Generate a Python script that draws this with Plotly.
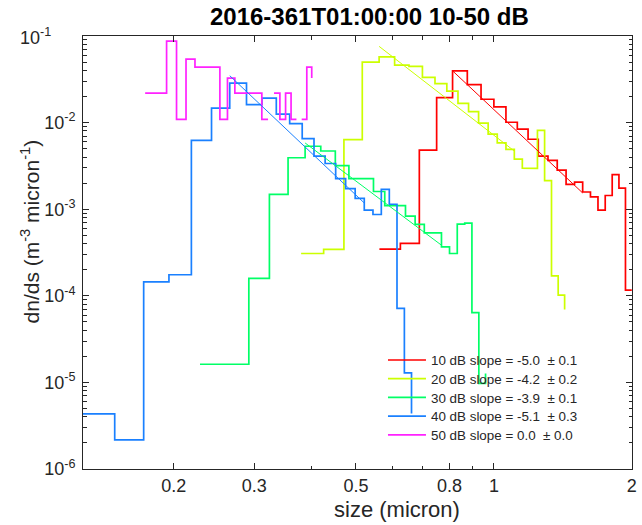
import plotly.graph_objects as go

# ---------------- data ----------------
# bin edges (micron); values: dn/ds per bin, last entry = value at the final edge
edges_10 = [0.5625, 0.625, 0.6875, 0.75, 0.8125, 0.875, 0.9375, 1.0, 1.0625, 1.125,
            1.1875, 1.25, 1.3125, 1.375, 1.4375, 1.5, 1.5625, 1.625, 1.6875, 1.75,
            1.8125, 1.875, 1.9375, 2.0]
vals_10 = [3.46e-4, 4.02e-4, 4.82e-3, 1.94e-2, 3.96e-2, 2.75e-2, 1.86e-2, 1.52e-2,
           1.01e-2, 8.41e-3, 6.42e-3, 4.09e-3, 3.67e-3, 2.82e-3, 1.94e-3, 2.05e-3,
           1.58e-3, 1.39e-3, 9.74e-4, 1.44e-3, 2.51e-3, 1.75e-3, 1.16e-4, 1.16e-4]

edges_20 = [0.3795, 0.4250, 0.4706, 0.5161, 0.5617, 0.6072, 0.6527, 0.6983, 0.7438,
            0.7894, 0.8349, 0.8805, 0.9260, 0.9716, 1.0171, 1.0626, 1.1082, 1.1537,
            1.1993, 1.2448, 1.2904, 1.3359, 1.3815, 1.4270]
vals_20 = [3.08e-4, 3.44e-4, 6.37e-3, 5.00e-2, 5.74e-2, 4.61e-2, 4.46e-2, 3.33e-2,
           2.82e-2, 2.31e-2, 1.67e-2, 1.34e-2, 9.87e-3, 7.37e-3, 5.82e-3, 4.92e-3,
           3.78e-3, 2.97e-3, 2.96e-3, 8.15e-3, 2.14e-3, 1.70e-4, 1.02e-4, 6.97e-5]

edges_30 = [0.2283, 0.2601, 0.2918, 0.3236, 0.3554, 0.3872, 0.4189, 0.4507, 0.4825,
            0.5142, 0.5460, 0.5778, 0.6095, 0.6413, 0.6731, 0.7049, 0.7366, 0.7684,
            0.8002, 0.8319, 0.8637, 0.8955, 0.9272, 0.9590]
vals_30 = [1.62e-5, 1.62e-5, 1.59e-4, 1.48e-3, 3.93e-3, 5.33e-3, 4.70e-3, 3.19e-3,
           2.26e-3, 2.26e-3, 1.60e-3, 1.10e-3, 1.10e-3, 8.30e-4, 6.67e-4, 5.33e-4,
           5.33e-4, 3.67e-4, 3.08e-4, 6.71e-4, 6.90e-4, 6.40e-5, 9.77e-6, 1.27e-5]

edges_40 = [0.1254, 0.1487, 0.1720, 0.1953, 0.2186, 0.2419, 0.2651, 0.2884, 0.3117,
            0.3350, 0.3583, 0.3816, 0.4049, 0.4282, 0.4515, 0.4747, 0.4980, 0.5213,
            0.5446, 0.5679, 0.5912, 0.6145, 0.6377, 0.6610]
vals_40 = [4.32e-6, 2.17e-6, 1.45e-4, 1.75e-4, 6.25e-3, 1.47e-2, 2.86e-2, 1.61e-2,
           1.92e-2, 1.25e-2, 9.74e-3, 6.54e-3, 4.09e-3, 3.37e-3, 2.26e-3, 1.73e-3,
           1.33e-3, 9.74e-4, 8.69e-4, 1.69e-3, 1.14e-3, 7.16e-5, 1.29e-5, 4.38e-6]

edges_50 = [0.1733, 0.1832, 0.1930, 0.2029, 0.2128, 0.2226, 0.2325, 0.2424, 0.2523,
            0.2621, 0.2720, 0.2819, 0.2917, 0.3016, 0.3115, 0.3214, 0.3312, 0.3411,
            0.3510, 0.3608, 0.3707, 0.3806, 0.3905, 0.4003]
vals_50 = [2.19e-2, 2.19e-2, 8.73e-2, 1.09e-2, 5.42e-2, 4.38e-2, 4.38e-2, 4.38e-2,
           1.09e-2, 3.27e-2, 2.19e-2, 2.19e-2, 2.19e-2, 2.19e-2, 1.09e-2, None,
           2.19e-2, 1.09e-2, 2.19e-2, 1.09e-2, None, 1.09e-2, 4.38e-2, 3.27e-2]

# power-law fit lines (end points)
fit_x_10 = [0.8125, 1.5625]; fit_y_10 = [3.96e-2, 1.54e-3]
fit_x_20 = [0.5617, 1.108];  fit_y_20 = [7.59e-2, 4.70e-3]
fit_x_30 = [0.3872, 0.7684]; fit_y_30 = [5.82e-3, 3.84e-4]
fit_x_40 = [0.2651, 0.5213]; fit_y_40 = [3.48e-2, 1.18e-3]

labels = ["10 dB slope = -5.0\u00a0\u00a0\u00b1 0.1",
          "20 dB slope = -4.2\u00a0\u00a0\u00b1 0.2",
          "30 dB slope = -3.9\u00a0\u00a0\u00b1 0.1",
          "40 dB slope = -5.1\u00a0\u00a0\u00b1 0.3",
          "50 dB slope = 0.0\u00a0\u00a0\u00b1 0.0"]
colors = ["#ff0000", "#ccff00", "#00ff66", "#1a80ff", "#ff22ff"]

x_tick_vals = [0.2, 0.3, 0.5, 0.8, 1, 2]
x_tick_text = ["0.2", "0.3", "0.5", "0.8", "1", "2"]
x_minor_vals = [0.4, 0.6, 0.7, 0.9]
y_tick_vals = [1e-6, 1e-5, 1e-4, 1e-3, 1e-2, 1e-1]
y_tick_text = ["10<sup>-6</sup>", "10<sup>-5</sup>", "10<sup>-4</sup>",
               "10<sup>-3</sup>", "10<sup>-2</sup>", ""]
y_top_label = "10<sup>-1</sup>"
y_minor_vals = [k * 10.0 ** n for n in range(-6, -1) for k in range(2, 10)]


def stairs(edges, vals):
    xs, ys = [], []
    n = len(edges) - 1
    for i in range(n):
        v = vals[i]
        if v is None:
            if xs and xs[-1] is not None:
                xs.append(None)
                ys.append(None)
            continue
        xs += [edges[i], edges[i + 1]]
        ys += [v, v]
    if vals[n] is not None and vals[n - 1] is not None:
        xs.append(edges[n])
        ys.append(vals[n])
    return xs, ys


series = [(edges_10, vals_10), (edges_20, vals_20), (edges_30, vals_30),
          (edges_40, vals_40), (edges_50, vals_50)]
fits = [(fit_x_10, fit_y_10), (fit_x_20, fit_y_20), (fit_x_30, fit_y_30),
        (fit_x_40, fit_y_40)]

axcol = "#262626"
font = "Liberation Sans, Arial, Helvetica, sans-serif"

fig = go.Figure()
legend_names = ["legend", "legend2", "legend3", "legend4", "legend5"]
for (e, v), lab, c, lg in zip(series, labels, colors, legend_names):
    xs, ys = stairs(e, v)
    fig.add_trace(go.Scatter(x=xs, y=ys, mode="lines", name=lab, legend=lg,
                             line=dict(color=c, width=1.7), connectgaps=False))
for (fx, fy), c in zip(fits, colors):
    fig.add_trace(go.Scatter(x=fx, y=fy, mode="lines", showlegend=False,
                             line=dict(color=c, width=1.0)))

# one legend box per row so the row pitch matches the reference
row_px0, row_pitch = 360.3, 18.7
legends = {}
for i, lg in enumerate(legend_names):
    yc = (469 - (row_px0 + row_pitch * i)) / 433
    legends[lg] = dict(x=0.5464, y=yc, xanchor="left", yanchor="middle",
                       bgcolor="rgba(0,0,0,0)", borderwidth=0,
                       font=dict(size=13.4, color=axcol, family=font),
                       itemwidth=38)

fig.update_layout(
    width=642, height=525,
    margin=dict(l=83, r=5, t=36, b=56),
    paper_bgcolor="white", plot_bgcolor="white",
    font=dict(family=font, color=axcol, size=18),
    title=dict(text="<b>2016-361T01:00:00 10-50 dB</b>", x=(372 - 83) / 554,
               xref="paper", xanchor="center", y=1 - 17 / 525, yref="container",
               yanchor="middle", font=dict(size=24, color="black", family=font)),
    showlegend=True,
    **legends,
    annotations=[
        dict(text="size (micron)", xref="paper", yref="paper", x=(400 - 83) / 554,
             y=(469 - 510) / 433, xanchor="center", yanchor="middle",
             showarrow=False, font=dict(size=22, color=axcol, family=font)),
        dict(text="dn/ds (m<sup>-3</sup> micron<sup>-1</sup>)", xref="paper",
             yref="paper", x=(30 - 83) / 554, y=(469 - 231) / 433, xanchor="center",
             yanchor="middle", textangle=-90, showarrow=False,
             font=dict(size=21, color=axcol, family=font)),
        dict(text=y_top_label, xref="paper", yref="paper", x=(17 - 83) / 554,
             y=1.0, xanchor="left", yanchor="middle", showarrow=False,
             font=dict(size=18, color=axcol, family=font)),
    ],
)
fig.update_xaxes(type="log", range=[-0.8969, 0.3015],
                 tickmode="array", tickvals=x_tick_vals, ticktext=x_tick_text,
                 ticks="inside", ticklen=6, tickwidth=1, tickcolor=axcol,
                 minor=dict(tickmode="array", tickvals=x_minor_vals, ticks="inside",
                            ticklen=3.5, tickcolor=axcol, showgrid=False),
                 showline=True, linecolor=axcol, linewidth=1, mirror="ticks",
                 showgrid=False, zeroline=False, ticklabeloverflow="allow",
                 tickfont=dict(size=18, color=axcol))
fig.update_yaxes(type="log", range=[-6, -1],
                 tickmode="array", tickvals=y_tick_vals, ticktext=y_tick_text,
                 ticks="inside", ticklen=6, tickwidth=1, tickcolor=axcol,
                 minor=dict(tickmode="array", tickvals=y_minor_vals, ticks="inside",
                            ticklen=3.5, tickcolor=axcol, showgrid=False),
                 showline=True, linecolor=axcol, linewidth=1, mirror="ticks",
                 showgrid=False, zeroline=False, ticklabelstandoff=3,
                 tickfont=dict(size=18, color=axcol))

fig.write_html("out.html", config={"displayModeBar": False},
               post_script="document.body.style.margin='0';"
                           "document.body.style.padding='0';")
